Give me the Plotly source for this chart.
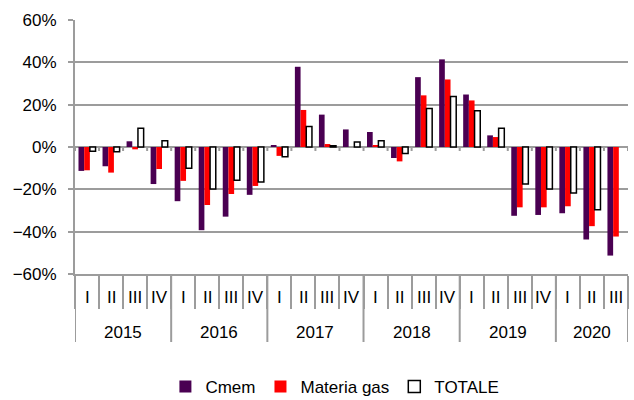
import plotly.graph_objects as go

# Quarterly year-on-year changes (%)
years = ["2015", "2016", "2017", "2018", "2019", "2020"]
quarters_per_year = [4, 4, 4, 4, 4, 3]
quarter_names = ["I", "II", "III", "IV"]

cmem = [-11.3, -9.1, 2.7, -17.5,
        -25.6, -39.3, -32.9, -22.6,
        0.8, 37.9, 15.3, 8.3,
        7.1, -5.2, 33.0, 41.4,
        24.8, 5.5, -32.5, -32.1,
        -31.3, -43.7, -51.3]
materia_gas = [-11.0, -12.1, -1.1, -10.4,
               -16.0, -27.4, -22.2, -18.4,
               -4.2, 17.5, 1.4, 0.0,
               0.6, -6.8, 24.4, 31.9,
               22.0, 4.7, -28.5, -28.5,
               -28.0, -37.4, -42.3]
totale = [-2.0, -2.2, 8.8, 3.0,
          -10.0, -19.8, -15.7, -16.5,
          -4.6, 9.7, 0.6, 2.4,
          3.0, -3.1, 18.2, 23.9,
          17.1, 8.8, -17.5, -19.8,
          -21.7, -29.6, None]

FONT = "Liberation Sans, Arial, sans-serif"
GRID = "#9c9c9c"
W, H = 634, 400
M_L, M_R, M_T, M_B = 75, 6, 20, 126
PLOT_H = H - M_T - M_B

# period index and labels
quarter_labels = []
for y, n in zip(years, quarters_per_year):
    quarter_labels += quarter_names[:n]
n_periods = len(quarter_labels)
idx = list(range(n_periods))

fig = go.Figure()
fig.add_trace(go.Bar(x=idx, y=cmem, name="Cmem",
                     marker=dict(color="#4a0052", line=dict(width=0))))
fig.add_trace(go.Bar(x=idx, y=materia_gas, name="Materia gas",
                     marker=dict(color="#ff0000", line=dict(width=0))))
fig.add_trace(go.Bar(x=idx, y=totale, name="TOTALE",
                     marker=dict(color="#ffffff", line=dict(color="#000000", width=1.5))))


def px_to_paper(px):
    return -px / PLOT_H


shapes = []
annotations = []

# small tick marks along the 0% line at category boundaries
for b in range(n_periods + 1):
    shapes.append(dict(type="line", xref="x", yref="y",
                       x0=b - 0.5, x1=b - 0.5, y0=0, y1=-4 * 120 / PLOT_H,
                       line=dict(color=GRID, width=2)))

# long separators between years (and at both ends)
start = 0
year_bounds = [0]
for n in quarters_per_year:
    start += n
    year_bounds.append(start)
for b in year_bounds:
    shapes.append(dict(type="line", xref="x", yref="paper",
                       x0=b - 0.5, x1=b - 0.5, y0=0, y1=px_to_paper(68),
                       line=dict(color=GRID, width=2)))

# quarter labels
for i, q in enumerate(quarter_labels):
    annotations.append(dict(x=i, y=px_to_paper(23), xref="x", yref="paper",
                            text=q, showarrow=False, yanchor="middle",
                            font=dict(family=FONT, size=17, color="#000")))
# year labels
for k, y in enumerate(years):
    center = (year_bounds[k] + year_bounds[k + 1] - 1) / 2
    annotations.append(dict(x=center, y=px_to_paper(58), xref="x", yref="paper",
                            text=y, showarrow=False, yanchor="middle",
                            font=dict(family=FONT, size=17, color="#000")))

fig.update_layout(
    width=W, height=H,
    margin=dict(l=M_L, r=M_R, t=M_T, b=M_B, autoexpand=False),
    paper_bgcolor="white", plot_bgcolor="white",
    barmode="group", bargap=0.29, bargroupgap=0,
    font=dict(family=FONT, size=17, color="#000"),
    showlegend=True,
    legend=dict(orientation="h", x=0.47, xanchor="center",
                y=px_to_paper(113), yanchor="middle",
                font=dict(family=FONT, size=17, color="#000"),
                itemwidth=30, tracegroupgap=0),
    xaxis=dict(range=[-0.5, n_periods - 0.5], showgrid=False, zeroline=False,
               showline=True, linecolor=GRID, linewidth=2,
               tickmode="array", tickvals=[b - 0.5 for b in range(n_periods + 1)],
               ticks="outside", ticklen=33, tickcolor=GRID, tickwidth=2,
               showticklabels=False),
    yaxis=dict(range=[-60, 60], dtick=20, tick0=0, ticksuffix="%",
               showgrid=True, gridcolor=GRID, gridwidth=2, zeroline=False,
               showline=True, linecolor=GRID, linewidth=2,
               ticks="outside", ticklen=5, tickcolor=GRID, tickwidth=2,
               ticklabelstandoff=8,
               tickfont=dict(family=FONT, size=17, color="#000")),
    shapes=shapes,
    annotations=annotations,
)

fig.write_html("out.html")
